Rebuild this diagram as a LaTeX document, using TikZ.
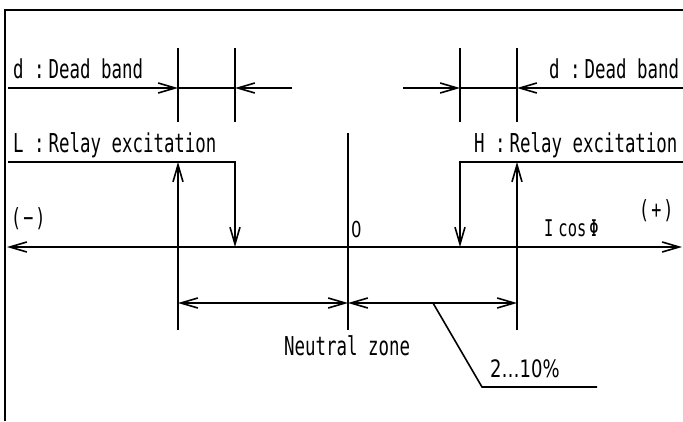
\documentclass[tikz,border=0pt]{standalone}
\usepackage{fontspec}
\newfontfamily\cadfont[FakeStretch=0.67]{DejaVu Sans Mono}
\newfontfamily\cadplain[FakeStretch=0.75]{DejaVu Sans}
\usetikzlibrary{arrows.meta}
\tikzset{
  line/.style={line width=1.6pt},
  frameline/.style={line width=2.6pt},
  barb/.style={line, -{Straight Barb[length=17pt,width=10pt]}},
  barbs/.style={line, {Straight Barb[length=17pt,width=10pt]}-{Straight Barb[length=17pt,width=10pt]}},
  txt/.style={inner sep=0pt, anchor=base west, font=\cadfont\fontsize{26}{26}\selectfont},
  smalltxt/.style={txt, font=\cadfont\fontsize{23}{23}\selectfont},
  signtxt/.style={txt, font=\cadfont\fontsize{25}{25}\selectfont},
  digittxt/.style={txt, font=\cadplain\fontsize{22}{22}\selectfont}
}

\begin{document}
\begin{tikzpicture}[x=1pt,y=-1pt]
  \useasboundingbox (0,0) rectangle (683,421);

  % frame
  \coordinate (frameBL) at (5,421);
  \coordinate (frameTL) at (5,10);
  \coordinate (frameTR) at (683,10);
  \draw[frameline] (frameBL) -- (frameTL) -- (frameTR);

  % I cos phi axis
  \coordinate (axL) at (7,247);
  \coordinate (axR) at (682,247);
  \draw[barbs] (axL) -- (axR);

  % dead band ticks
  \foreach \x in {178,235,460,517}
    \draw[line] (\x,48) -- (\x,122);

  % left dead band
  \coordinate (dLin) at (8,88);
  \coordinate (dLa) at (178,88);
  \coordinate (dLb) at (235,88);
  \coordinate (dLout) at (292,88);
  \draw[barb] (dLin) -- (dLa);
  \draw[line] (dLa) -- (dLb);
  \draw[barb] (dLout) -- (dLb);

  % right dead band
  \coordinate (dRin) at (403,88);
  \coordinate (dRa) at (460,88);
  \coordinate (dRb) at (517,88);
  \coordinate (dRout) at (683,88);
  \draw[barb] (dRin) -- (dRa);
  \draw[line] (dRa) -- (dRb);
  \draw[barb] (dRout) -- (dRb);

  % relay excitation L and H
  \coordinate (Lstart) at (8,162);
  \coordinate (Lcorner) at (235,162);
  \coordinate (Loff) at (235,247);
  \draw[barb] (Lstart) -- (Lcorner) -- (Loff);
  \coordinate (Hstart) at (683,162);
  \coordinate (Hcorner) at (460,162);
  \coordinate (Hoff) at (460,247);
  \draw[barb] (Hstart) -- (Hcorner) -- (Hoff);

  % pick-up lines and zero line
  \coordinate (Lfoot) at (178,330);
  \coordinate (Lon) at (178,162);
  \coordinate (Hfoot) at (517,330);
  \coordinate (Hon) at (517,162);
  \coordinate (zeroTop) at (348,133);
  \coordinate (zeroFoot) at (348,330);
  \draw[barb] (Lfoot) -- (Lon);
  \draw[barb] (Hfoot) -- (Hon);
  \draw[line] (zeroTop) -- (zeroFoot);

  % neutral zone dimension
  \coordinate (nzL) at (178,303);
  \coordinate (nzM) at (348,303);
  \coordinate (nzR) at (517,303);
  \draw[barbs] (nzL) -- (nzM);
  \draw[barbs] (nzM) -- (nzR);

  % leader to 2...10%
  \coordinate (leadA) at (433,303);
  \coordinate (leadB) at (482,387);
  \coordinate (leadC) at (597,387);
  \draw[line] (leadA) -- (leadB) -- (leadC);

  % texts
  \node[txt] (deadL) at (13,78) {d :\kern4pt Dead band};
  \node[txt] (deadR) at (549,78) {d :\kern4pt Dead band};
  \node[txt] (relayL) at (13,152) {L :\kern4pt Relay excitation};
  \node[txt] (relayH) at (474,152) {H :\kern4pt Relay excitation};
  \node[signtxt] (minus) at (11,226) {(\kern2pt−\kern2pt)};
  \node[signtxt] (plus) at (639,218) {(\kern2pt+\kern2pt)};
  \node[digittxt] (zero) at (351,237) {0};
  \node[smalltxt] (icos) at (544,236) {I\kern5pt cos\kern3pt Φ};
  \node[txt] (neutral) at (284,355) {Neutral zone};
  \node[txt, font=\cadplain\fontsize{24}{24}\selectfont] (pct) at (490,377) {2…10\%};
\end{tikzpicture}
\end{document}
